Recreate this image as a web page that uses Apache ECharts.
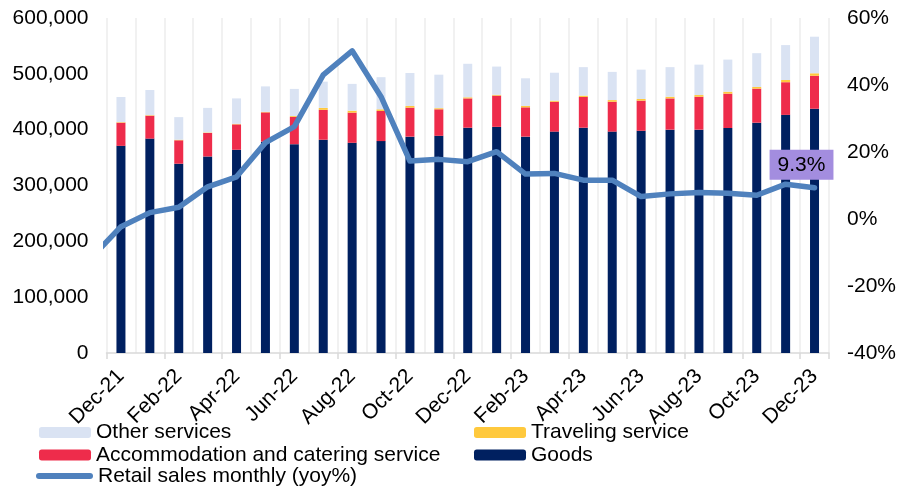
<!DOCTYPE html>
<html>
<head>
<meta charset="utf-8">
<script src="https://cdn.jsdelivr.net/npm/echarts@6/dist/echarts.min.js"></script>
<style>
  html, body { margin: 0; padding: 0; background: #fff; }
  #chart { width: 899px; height: 491px; }
</style>
</head>
<body>
<div id="chart"></div>
<script>
// Monthly retail sales by component (left axis) and yoy growth (right axis)
const months = ['Dec-21','Jan-22','Feb-22','Mar-22','Apr-22','May-22','Jun-22','Jul-22','Aug-22','Sep-22','Oct-22','Nov-22',
  'Dec-22','Jan-23','Feb-23','Mar-23','Apr-23','May-23','Jun-23','Jul-23','Aug-23','Sep-23','Oct-23','Nov-23','Dec-23'];

const goods = [371000,384000,339000,352000,364000,378500,374000,382000,376500,379500,387500,389000,
  403500,405000,387500,396500,403500,396500,398000,400000,400000,403000,412500,426500,437500];
const accommodation = [41500,41000,42000,42000,45500,52500,49000,53500,54000,54000,52000,47500,
  52500,56000,52500,53500,55000,53500,54000,56000,59000,61500,61000,58500,59000];
const traveling = [1000,1000,1000,1000,1000,1000,1500,3500,3500,3000,3000,2000,
  2000,1500,2500,2000,2500,3000,3000,3000,3000,3500,3000,4000,4500];
const otherServices = [45000,45000,40500,44000,45500,45500,48500,47000,48000,57500,59000,60000,
  60000,50500,49500,50000,51000,50500,52500,53000,54500,57500,60500,62500,65500];

// yoy % growth; the line enters from the previous month (Nov-21), which lies left of the plot
const yoyPrevMonth = -11.3;
const yoy = [-2.3,1.9,3.5,9.6,12.6,22.8,27.6,43.0,50.2,36.5,17.3,17.8,
  17.1,20.1,13.4,13.6,11.6,11.6,6.7,7.5,7.9,7.7,7.1,10.4,9.3];

const leftTicks = { min: 0, max: 600000, interval: 100000 };
const rightTicks = { min: -40, max: 60, interval: 20 };

const FONT = "'Liberation Sans', Arial, sans-serif";
const TXT = '#000';

const lastIdx = yoy.length - 1;
const lineData = [[-1, yoyPrevMonth]].concat(yoy.map((v, i) => {
  if (i === lastIdx) {
    return {
      value: [i, v],
      label: {
        show: true,
        position: 'top',
        distance: 8,
        offset: [-13, 0],
        formatter: v.toFixed(1) + '%',
        backgroundColor: '#a38ddf',
        padding: [5, 8, 4, 8],
        color: TXT,
        fontSize: 21,
        fontFamily: FONT
      }
    };
  }
  return [i, v];
}));

const chart = echarts.init(document.getElementById('chart'), null, { renderer: 'canvas' });

function legendAt(name, left, top, extra) {
  return Object.assign({
    data: [name],
    left: left,
    top: top,
    padding: 0,
    itemWidth: 52,
    itemHeight: 11,
    itemGap: 0,
    selectedMode: false,
    textStyle: { fontSize: 21, fontFamily: FONT, color: TXT, padding: [0, 0, 0, 0] }
  }, extra || {});
}

chart.setOption({
  animation: false,
  backgroundColor: '#fff',
  grid: { left: 106.5, right: 69, top: 18, bottom: 138, containLabel: false },
  legend: [
    legendAt('Other services', 39, 422),
    legendAt('Traveling service', 474, 422),
    legendAt('Accommodation and catering service', 39, 444.5),
    legendAt('Goods', 474, 444.5),
    legendAt('Retail sales monthly (yoy%)', 36, 465.5, {
      itemWidth: 57,
      itemHeight: 6,
      icon: 'path://M3,0 L54,0 A3,3 0 0 1 54,6 L3,6 A3,3 0 0 1 3,0 Z'
    })
  ],
  xAxis: [
    {
      type: 'category',
      data: months,
      boundaryGap: true,
      axisLine: { show: true, lineStyle: { color: '#d9d9d9', width: 1.5 } },
      axisTick: { show: true, interval: 1, length: 6, lineStyle: { color: '#d9d9d9', width: 1.5 } },
      axisLabel: {
        interval: 1,
        rotate: 45,
        margin: 20,
        fontSize: 21,
        fontFamily: FONT,
        color: TXT
      },
      splitLine: { show: true, interval: 0, lineStyle: { color: '#ececec', width: 1.5 } }
    },
    {
      type: 'value',
      min: -0.5,
      max: months.length - 0.5,
      show: false
    }
  ],
  yAxis: [
    {
      type: 'value',
      min: leftTicks.min,
      max: leftTicks.max,
      interval: leftTicks.interval,
      axisLine: { show: false },
      axisTick: { show: false },
      splitLine: { show: false },
      axisLabel: {
        margin: 18,
        fontSize: 21,
        fontFamily: FONT,
        color: TXT,
        formatter: v => v.toLocaleString('en-US')
      }
    },
    {
      type: 'value',
      min: rightTicks.min,
      max: rightTicks.max,
      interval: rightTicks.interval,
      position: 'right',
      axisLine: { show: false },
      axisTick: { show: false },
      splitLine: { show: false },
      axisLabel: {
        margin: 18,
        fontSize: 21,
        fontFamily: FONT,
        color: TXT,
        formatter: v => v + '%'
      }
    }
  ],
  series: [
    {
      name: 'Goods', type: 'bar', stack: 'total', barWidth: 9,
      itemStyle: { color: '#002060' }, data: goods
    },
    {
      name: 'Accommodation and catering service', type: 'bar', stack: 'total', barWidth: 9,
      itemStyle: { color: '#ee2c4b' }, data: accommodation
    },
    {
      name: 'Traveling service', type: 'bar', stack: 'total', barWidth: 9,
      itemStyle: { color: '#ffc93d' }, data: traveling
    },
    {
      name: 'Other services', type: 'bar', stack: 'total', barWidth: 9,
      itemStyle: { color: '#dae3f3' }, data: otherServices
    },
    {
      name: 'Retail sales monthly (yoy%)',
      type: 'line',
      xAxisIndex: 1,
      yAxisIndex: 1,
      clip: true,
      symbol: 'circle',
      symbolSize: 0,
      showSymbol: true,
      showAllSymbol: true,
      smooth: false,
      z: 5,
      lineStyle: { color: '#4f81bd', width: 5.5, cap: 'round', join: 'round' },
      itemStyle: { color: '#4f81bd' },
      data: lineData
    }
  ]
});
</script>
</body>
</html>
